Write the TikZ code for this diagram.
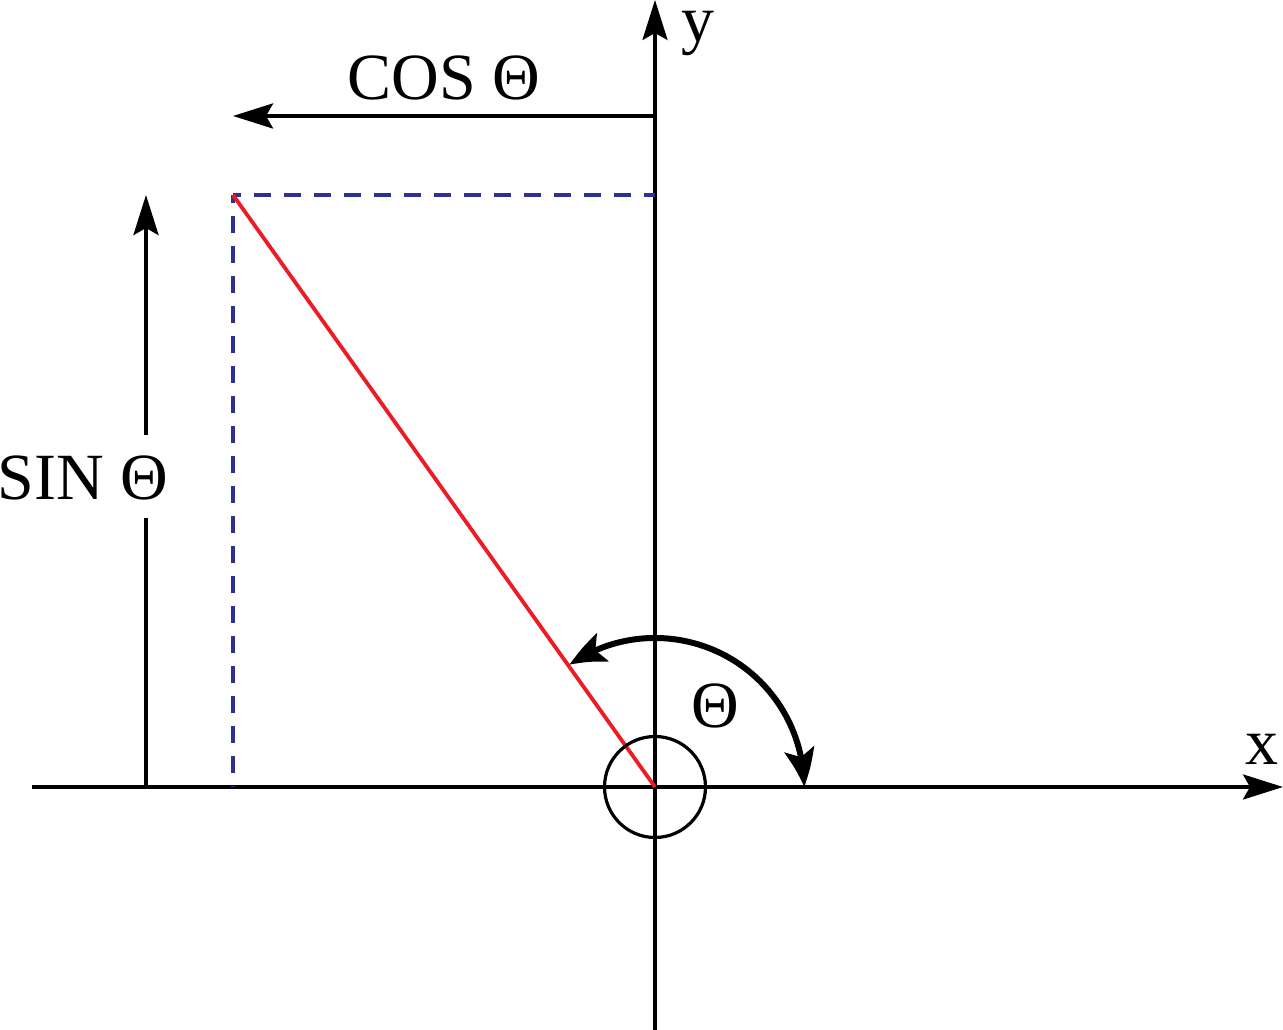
\documentclass[tikz,border=0pt]{standalone}
\usepackage{fontspec}
\setmainfont{Liberation Serif}
\usetikzlibrary{arrows.meta,bending}
\definecolor{dashblue}{RGB}{46,49,146}
\definecolor{vecred}{RGB}{237,28,36}
\begin{document}
\begin{tikzpicture}[x=1pt,y=1pt,
  lbl/.style={inner sep=0pt,anchor=base,font=\fontsize{66}{70}\selectfont},
  axis/.style={line width=3.5pt,-{Stealth[length=40pt,width=25pt,inset=7pt]}},
  comp/.style={line width=4pt,-{Stealth[length=40pt,width=25pt,inset=7pt]}},
  guide/.style={line width=4.3pt,dash pattern=on 17pt off 13pt,dash phase=9pt,color=dashblue},
  vec/.style={line width=3.8pt,color=vecred},
  anglearc/.style={line width=6pt,{Stealth[length=38pt,width=30pt,inset=8pt,bend]}-{Stealth[length=38pt,width=30pt,inset=8pt,bend]}}
]
\useasboundingbox (0,0) rectangle (1283,1030);
% named points
\coordinate (O) at (655,243);
\coordinate (P) at (233,835);
\coordinate (Xs) at (32,243);
\coordinate (Xe) at (1283,243);
\coordinate (Ys) at (655,0);
\coordinate (Ye) at (655,1030);
\coordinate (Cs) at (655,914);
\coordinate (Ce) at (233,914);
\coordinate (Sb) at (146,243);
\coordinate (Sg1) at (146,512);
\coordinate (Sg2) at (146,595);
\coordinate (Se) at (146,835);
\coordinate (Pb) at (233,243);
\coordinate (Py) at (655,835);
% axes
\draw[axis] (Xs) -- (Xe);
\draw[axis] (Ys) -- (Ye);
% dashed projections
\draw[guide] (P) -- (Pb);
\draw[guide] (P) -- (Py);
% red vector
\draw[vec] (O) -- (P);
% origin circle
\draw[line width=3.2pt] (O) circle[radius=50.5pt];
% cos arrow
\draw[comp] (Cs) -- (Ce);
% sin arrow with gap
\draw[line width=4pt] (Sb) -- (Sg1);
\draw[comp] (Sg2) -- (Se);
% angle arc
\draw[anglearc] ([shift={(125:149pt)}]O) arc[start angle=125,end angle=0,radius=149pt];
% labels
\node[lbl] (cos) at (444,930) {COS Θ};
\node[lbl] (sin) at (83,530) {SIN Θ};
\node[lbl] (th) at (715,302) {Θ};
\node[lbl] (xl) at (1262,265) {x};
\node[lbl] (yl) at (698,988) {y};
\end{tikzpicture}
\end{document}
